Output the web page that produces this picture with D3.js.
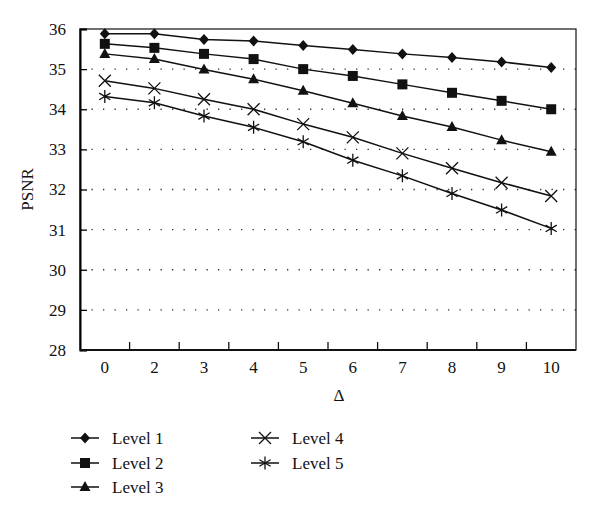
<!DOCTYPE html>
<html>
<head>
<meta charset="utf-8">
<script src="https://cdn.jsdelivr.net/npm/d3@7"></script>
<style>
  body { margin: 0; background: #fff; }
  text { font-family: "Liberation Serif", "DejaVu Serif", serif; fill: #111; }
</style>
</head>
<body>
<svg id="chart" width="600" height="515"></svg>
<script>
// chart values
const deltas = ["0", "2", "3", "4", "5", "6", "7", "8", "9", "10"];
const level1 = [35.88, 35.88, 35.74, 35.70, 35.59, 35.49, 35.38, 35.29, 35.18, 35.04];
const level2 = [35.63, 35.53, 35.38, 35.25, 35.00, 34.83, 34.62, 34.41, 34.21, 34.00];
const level3 = [35.38, 35.25, 34.99, 34.75, 34.46, 34.15, 33.83, 33.56, 33.23, 32.94];
const level4 = [34.71, 34.52, 34.25, 34.00, 33.63, 33.30, 32.90, 32.53, 32.17, 31.84];
const level5 = [34.32, 34.16, 33.83, 33.55, 33.19, 32.73, 32.34, 31.90, 31.49, 31.03];
const seriesNames = ["Level 1", "Level 2", "Level 3", "Level 4", "Level 5"];
const markers = ["diamond", "square", "triangle", "cross", "star"];
const yTicks = [28, 29, 30, 31, 32, 33, 34, 35, 36];

const series = [level1, level2, level3, level4, level5].map((vals, i) => ({
  name: seriesNames[i], marker: markers[i], values: vals
}));

const svg = d3.select("#chart");
const margin = { top: 29, left: 80, right: 24, bottom: 165 };
const width = 600 - margin.left - margin.right;
const height = 515 - margin.top - margin.bottom;

const g = svg.append("g").attr("transform", `translate(${margin.left},${margin.top})`);

const x = d3.scaleBand().domain(deltas).range([0, width]);
const y = d3.scaleLinear().domain([28, 36]).range([height, 0]);

// dotted grid
g.selectAll(".grid")
  .data(yTicks.filter(t => t > 28 && t < 36))
  .enter().append("line")
  .attr("x1", 0).attr("x2", width)
  .attr("y1", d => y(d)).attr("y2", d => y(d))
  .attr("stroke", "#333").attr("stroke-width", 1.3)
  .attr("stroke-dasharray", "1.3,10.2");

// frame
g.append("rect")
  .attr("width", width).attr("height", height)
  .attr("fill", "none").attr("stroke", "#111").attr("stroke-width", 1.2);

// y axis (inward ticks)
const yAxis = g.append("g")
  .call(d3.axisLeft(y).tickValues(yTicks).tickSize(-7).tickPadding(14).tickFormat(d3.format("d")));
yAxis.select(".domain").attr("stroke-width", 2);
yAxis.selectAll(".tick line").attr("stroke-width", 1.3);
yAxis.selectAll("text").style("font-size", "17px").attr("font-family", null);

// x axis: ticks at band boundaries, labels at centers
const xAxis = g.append("g").attr("transform", `translate(0,${height})`);
xAxis.append("line").attr("x1", 0).attr("x2", width).attr("stroke", "#111").attr("stroke-width", 2);
xAxis.selectAll(".xt")
  .data(deltas.slice(1))
  .enter().append("line")
  .attr("x1", d => x(d)).attr("x2", d => x(d))
  .attr("y1", 0).attr("y2", -8)
  .attr("stroke", "#111").attr("stroke-width", 1.3);
xAxis.selectAll(".xl")
  .data(deltas)
  .enter().append("text")
  .attr("x", d => x(d) + x.bandwidth() / 2)
  .attr("y", 23)
  .attr("text-anchor", "middle")
  .style("font-size", "17px")
  .text(d => d);

// axis titles
g.append("text")
  .attr("x", width / 2 + 11).attr("y", height + 51)
  .attr("text-anchor", "middle").style("font-size", "17px")
  .text("Δ");
g.append("text")
  .attr("transform", `translate(${-47},${height / 2}) rotate(-90)`)
  .attr("text-anchor", "middle").style("font-size", "17px")
  .text("PSNR");

// markers
function drawMarker(sel, type) {
  if (type === "diamond") {
    sel.append("path").attr("d", "M0,-5.5L5,0L0,5.5L-5,0Z").attr("fill", "#111");
  } else if (type === "square") {
    sel.append("rect").attr("x", -5).attr("y", -5).attr("width", 10).attr("height", 10).attr("fill", "#111");
  } else if (type === "triangle") {
    sel.append("path").attr("d", "M0,-6L5.5,4L-5.5,4Z").attr("fill", "#111");
  } else if (type === "cross") {
    sel.append("path").attr("d", "M-6,-6L6,6M-6,6L6,-6").attr("stroke", "#111").attr("stroke-width", 1.3);
  } else if (type === "star") {
    sel.append("path").attr("d", "M0,-6.5L0,6.5M-5.6,-3.3L5.6,3.3M-5.6,3.3L5.6,-3.3")
      .attr("stroke", "#111").attr("stroke-width", 1.3);
  }
}

const line = d3.line()
  .x((d, i) => x(deltas[i]) + x.bandwidth() / 2)
  .y(d => y(d));

series.forEach(s => {
  g.append("path").datum(s.values)
    .attr("d", line).attr("fill", "none")
    .attr("stroke", "#111").attr("stroke-width", 1.5);
  s.values.forEach((v, i) => {
    const m = g.append("g")
      .attr("transform", `translate(${x(deltas[i]) + x.bandwidth() / 2},${y(v)})`);
    drawMarker(m, s.marker);
  });
});

// legend
const legendPos = [
  { x: 71, y: 438 }, { x: 71, y: 463 }, { x: 71, y: 487 },
  { x: 251, y: 438 }, { x: 251, y: 463 }
];
series.forEach((s, i) => {
  const lg = svg.append("g").attr("transform", `translate(${legendPos[i].x},${legendPos[i].y})`);
  lg.append("line").attr("x1", 0).attr("x2", 28).attr("stroke", "#111").attr("stroke-width", 1.5);
  drawMarker(lg.append("g").attr("transform", "translate(14,0)"), s.marker);
  lg.append("text").attr("x", 41).attr("y", 6).style("font-size", "17px").text(s.name);
});
</script>
</body>
</html>
